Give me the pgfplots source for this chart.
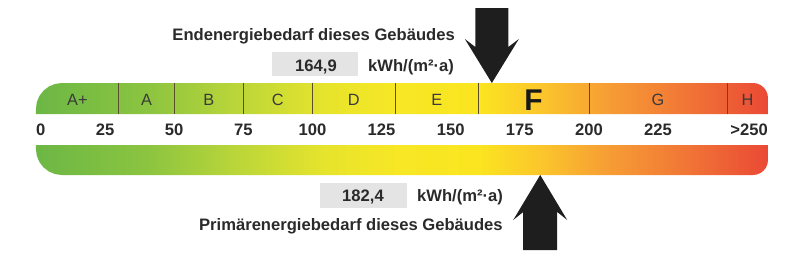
\documentclass[border=0pt]{standalone}
\usepackage{pgfplots}
\pgfplotsset{compat=1.18}
\usepackage{fontspec}
\setmainfont{Liberation Sans}

\definecolor{c0}{RGB}{108,183,69}
\definecolor{c40}{RGB}{139,196,64}
\definecolor{c75}{RGB}{190,215,56}
\definecolor{c105}{RGB}{231,228,44}
\definecolor{c130}{RGB}{247,231,37}
\definecolor{c160}{RGB}{251,229,32}
\definecolor{c182}{RGB}{251,199,43}
\definecolor{c205}{RGB}{247,160,52}
\definecolor{c235}{RGB}{241,118,54}
\definecolor{c265}{RGB}{234,73,53}
\definecolor{divider}{RGB}{88,78,46}
\definecolor{arrowc}{RGB}{30,30,30}
\definecolor{txt}{RGB}{42,42,42}
\definecolor{lett}{RGB}{58,58,58}
\definecolor{boxgray}{RGB}{228,228,228}

% stops: 25bp + 0.18884*value
\pgfdeclarehorizontalshading{energy}{100bp}{%
 color(0bp)=(c0); color(25bp)=(c0); color(32.55bp)=(c40); color(39.16bp)=(c75);
 color(44.83bp)=(c105); color(49.55bp)=(c130); color(55.21bp)=(c160);
 color(59.37bp)=(c182); color(63.71bp)=(c205); color(69.38bp)=(c235);
 color(75bp)=(c265); color(100bp)=(c265)}

\pgfdeclareplotmark{downarrow}{%
 \pgfpathmoveto{\pgfpoint{0pt}{0pt}}%
 \pgfpathlineto{\pgfpoint{27pt}{44pt}}%
 \pgfpathlineto{\pgfpoint{16.5pt}{36pt}}%
 \pgfpathlineto{\pgfpoint{16.5pt}{75pt}}%
 \pgfpathlineto{\pgfpoint{-16.5pt}{75pt}}%
 \pgfpathlineto{\pgfpoint{-16.5pt}{36pt}}%
 \pgfpathlineto{\pgfpoint{-27pt}{44pt}}%
 \pgfpathclose\pgfusepathqfill}
\pgfdeclareplotmark{uparrow}{%
 \pgfpathmoveto{\pgfpoint{0pt}{0pt}}%
 \pgfpathlineto{\pgfpoint{27pt}{-45pt}}%
 \pgfpathlineto{\pgfpoint{17pt}{-37pt}}%
 \pgfpathlineto{\pgfpoint{17pt}{-75pt}}%
 \pgfpathlineto{\pgfpoint{-17pt}{-75pt}}%
 \pgfpathlineto{\pgfpoint{-17pt}{-37pt}}%
 \pgfpathlineto{\pgfpoint{-27pt}{-45pt}}%
 \pgfpathclose\pgfusepathqfill}

\newcommand\bigb{\fontsize{16.6}{19}\selectfont\bfseries}
\newcommand\letf{\fontsize{16.3}{19}\selectfont}

\begin{document}
\begin{tikzpicture}
\begin{axis}[scale only axis, width=800pt, height=258pt,
  xmin=-12.984, xmax=276.35, ymin=0, ymax=258, y dir=reverse,
  hide axis, clip=false]
\addplot[draw=none, mark=none] coordinates {(-12.984,0) (276.35,258)};
% top bar
\addplot[draw=none, mark=none, shading=energy, shade] coordinates {
 (0,114) (0,109) (0.322,102.27) (1.259,96) (2.756,90.62) (4.702,86.48) (6.969,83.89) (9.403,83)
 (259.35,83) (260.75,83.51) (262.06,85.01) (263.18,87.39) (264.05,90.5) (264.59,94.12) (264.77,98)
 (264.77,114)} -- cycle;
% bottom bar
\addplot[draw=none, mark=none, shading=energy, shade] coordinates {
 (0,145) (264.77,145) (264.77,160) (264.59,163.88) (264.05,167.5) (263.18,170.61) (262.06,172.99)
 (260.75,174.49) (259.35,175) (9.403,175) (6.969,174.11) (4.702,171.52) (2.756,167.38)
 (1.259,162) (0.322,155.73) (0,149)} -- cycle;
% class boundaries
\pgfplotsinvokeforeach{30,50,75,100,130,160,200,250}{
 \addplot[draw=divider, line width=0.8pt, mark=none] coordinates {(#1,83) (#1,114)};
}
% arrows
\addplot[only marks, mark=downarrow, color=arrowc] coordinates {(164.9,83)};
\addplot[only marks, mark=uparrow, color=arrowc] coordinates {(182.4,175)};

% class letters
\node[anchor=base, inner sep=0pt, font=\letf, text=lett] at (axis cs:15,105) {A+};
\node[anchor=base, inner sep=0pt, font=\letf, text=lett] at (axis cs:40,105) {A};
\node[anchor=base, inner sep=0pt, font=\letf, text=lett] at (axis cs:62.5,105) {B};
\node[anchor=base, inner sep=0pt, font=\letf, text=lett] at (axis cs:87.5,105) {C};
\node[anchor=base, inner sep=0pt, font=\letf, text=lett] at (axis cs:115,105) {D};
\node[anchor=base, inner sep=0pt, font=\letf, text=lett] at (axis cs:145,105) {E};
\node[anchor=base, inner sep=0pt, font=\fontsize{30}{32}\selectfont\bfseries, text=black!90] at (axis cs:180,110) {F};
\node[anchor=base, inner sep=0pt, font=\letf, text=lett] at (axis cs:225,105) {G};
\node[anchor=base, inner sep=0pt, font=\letf, text=lett] at (axis cs:257.4,105) {H};

% scale numbers
\node[anchor=base west, inner sep=0pt, font=\bigb, text=txt] at (axis cs:0,135.5) {0};
\pgfplotsinvokeforeach{25,50,75,100,125,150,175,200,225}{
 \node[anchor=base, inner sep=0pt, font=\bigb, text=txt] at (axis cs:#1,135.5) {#1};
}
\node[anchor=base east, inner sep=0pt, font=\bigb, text=txt] at (axis cs:264.77,135.5) {>250};

% top labels
\node[anchor=base east, inner sep=0pt, font=\bigb, text=txt] at (axis cs:151.57,40) {Endenergiebedarf dieses Gebäudes};
\node[fill=boxgray, inner sep=0pt, minimum width=86pt, minimum height=24pt] at (axis cs:100.76,64) {};
\node[anchor=base, inner sep=0pt, font=\bigb, text=txt] at (axis cs:101.3,71.5) {164,9};
\node[anchor=base west, inner sep=0pt, font=\bigb, text=txt] at (axis cs:120.1,71.5) {kWh/(m²·a)};

% bottom labels
\node[fill=boxgray, inner sep=0pt, minimum width=87pt, minimum height=25pt] at (axis cs:118.48,195.5) {};
\node[anchor=base, inner sep=0pt, font=\bigb, text=txt] at (axis cs:118.3,201.5) {182,4};
\node[anchor=base west, inner sep=0pt, font=\bigb, text=txt] at (axis cs:137.83,201.5) {kWh/(m²·a)};
\node[anchor=base east, inner sep=0pt, font=\bigb, text=txt] at (axis cs:168.9,230) {Primärenergiebedarf dieses Gebäudes};
\end{axis}
\end{tikzpicture}
\end{document}
